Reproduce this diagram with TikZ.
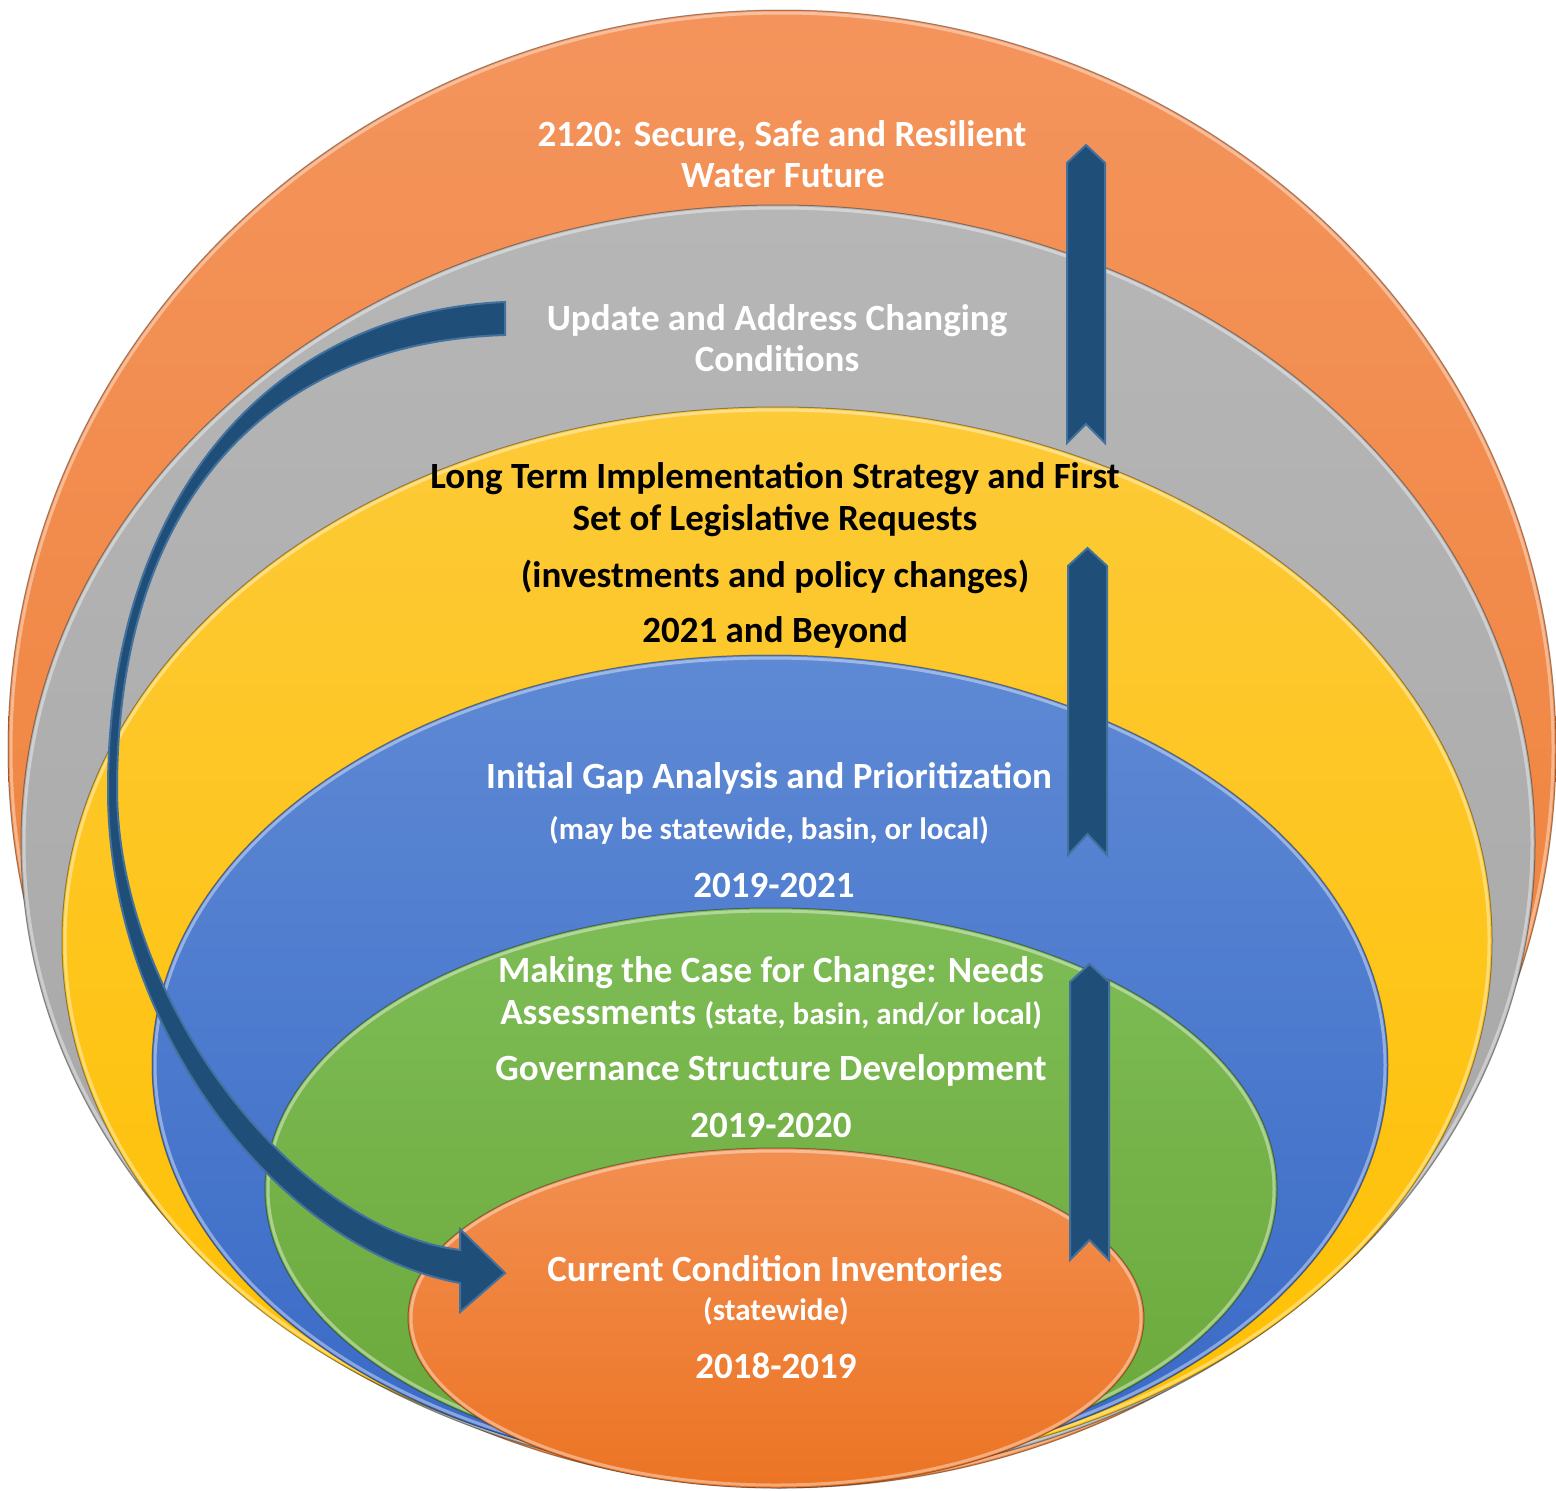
\documentclass[tikz,border=0pt]{standalone}
\usepackage{fontspec}
\setmainfont{Carlito}
\definecolor{arrfill}{HTML}{1F4E79}
\definecolor{arredge}{HTML}{41719C}
\tikzset{
  ring/.style={draw=black, draw opacity=0.35, line width=1pt},
  shine/.style={draw=white, draw opacity=0.4, line width=3pt},
  big/.style={font=\bfseries\fontsize{37}{44}\selectfont, inner sep=0pt, anchor=base},
  small/.style={font=\bfseries\fontsize{31}{37}\selectfont, inner sep=0pt, anchor=base},
  wtxt/.style={text=white},
  btxt/.style={text=black},
  uparrow/.style={fill=arrfill, draw=arredge, line width=2pt, line join=miter},
}
\newcommand{\uparr}[6]{% x1 x2 tip shoulder notch bottom
  \path[uparrow] (#1,#4) -- ({(#1+#2)/2},#3) -- (#2,#4) -- (#2,#6) -- ({(#1+#2)/2},#5) -- (#1,#6) -- cycle;}
\newcommand{\layer}[6]{% cx cy rx ry topcolor bottomcolor
  \path[ring, top color=#5, bottom color=#6] (#1,#2) ellipse [x radius=#3pt, y radius=#4pt];
  \path[shine] (#1,#2) ellipse [x radius=#3pt-3pt, y radius=#4pt-3pt];}
\definecolor{o1t}{RGB}{244,148,92}\definecolor{o1b}{RGB}{237,125,49}
\definecolor{g1t}{RGB}{182,182,182}\definecolor{g1b}{RGB}{165,165,165}
\definecolor{y1t}{RGB}{253,202,56}\definecolor{y1b}{RGB}{255,192,0}
\definecolor{b1t}{RGB}{94,137,212}\definecolor{b1b}{RGB}{56,105,198}
\definecolor{gr1t}{RGB}{126,188,86}\definecolor{gr1b}{RGB}{106,168,58}
\definecolor{o2t}{RGB}{242,143,80}\definecolor{o2b}{RGB}{236,116,36}
\begin{document}
\begin{tikzpicture}[x=1pt,y=-1pt]
\useasboundingbox (0,0) rectangle (1556,1491);
% nested ellipses
\layer{782}{749}{774}{739}{o1t}{o1b}
\layer{778}{843}{757}{638}{g1t}{g1b}
\layer{777}{941}{715}{534}{y1t}{y1b}
\layer{770}{1065}{618}{410}{b1t}{b1b}
\layer{771}{1189}{506}{281}{gr1t}{gr1b}
\layer{776}{1318}{368}{170}{o2t}{o2b}

% vertical arrows
\coordinate (a1top) at (1086,145);
\coordinate (a2top) at (1087.5,548);
\coordinate (a3top) at (1089.5,964);
\uparr{1067}{1105}{145}{163}{424}{443}
\uparr{1068}{1107}{548}{566}{834}{855}
\uparr{1070}{1109}{964}{982}{1240}{1260}

% curved arrow (tapering band with head)
\coordinate (cstart) at (505,318);
\coordinate (ctip) at (505,1273);
\path[uparrow]
  (505,302) .. controls (270,312) and (108,500) .. (108,790)
  .. controls (108,1030) and (280,1250) .. (460,1283)
  -- (460,1312) -- (ctip) -- (460,1229) -- (460,1250)
  .. controls (292,1228) and (118,1000) .. (117,790)
  .. controls (117,500) and (270,342) .. (505,335)
  -- cycle;

% texts
\node[big,wtxt] (t1a) at (782,146) {2120: Secure, Safe and Resilient};
\node[big,wtxt] (t1b) at (783,187) {Water Future};
\node[big,wtxt] (t2a) at (777,330) {Update and Address Changing};
\node[big,wtxt] (t2b) at (777,371) {Conditions};
\node[big,btxt] (t3a) at (775,488) {Long Term Implementation Strategy and First};
\node[big,btxt] (t3b) at (775,530) {Set of Legislative Requests};
\node[big,btxt] (t3c) at (775,587) {(investments and policy changes)};
\node[big,btxt] (t3d) at (775,642) {2021 and Beyond};
\node[big,wtxt] (t4a) at (769,788) {Initial Gap Analysis and Prioritization};
\node[small,wtxt] (t4b) at (769,839) {(may be statewide, basin, or local)};
\node[big,wtxt] (t4c) at (774,897) {2019-2021};
\node[big,wtxt] (t5a) at (771,982) {Making the Case for Change: Needs};
\node[wtxt,inner sep=0pt,anchor=base] (t5b) at (771,1024) {\bfseries\fontsize{37}{44}\selectfont Assessments \fontsize{31}{37}\selectfont(state, basin, and/or local)};
\node[big,wtxt] (t5c) at (771,1080) {Governance Structure Development};
\node[big,wtxt] (t5d) at (771,1137) {2019-2020};
\node[big,wtxt] (t6a) at (775,1281) {Current Condition Inventories};
\node[small,wtxt] (t6b) at (776,1320) {(statewide)};
\node[big,wtxt] (t6c) at (776,1378) {2018-2019};
\end{tikzpicture}
\end{document}
